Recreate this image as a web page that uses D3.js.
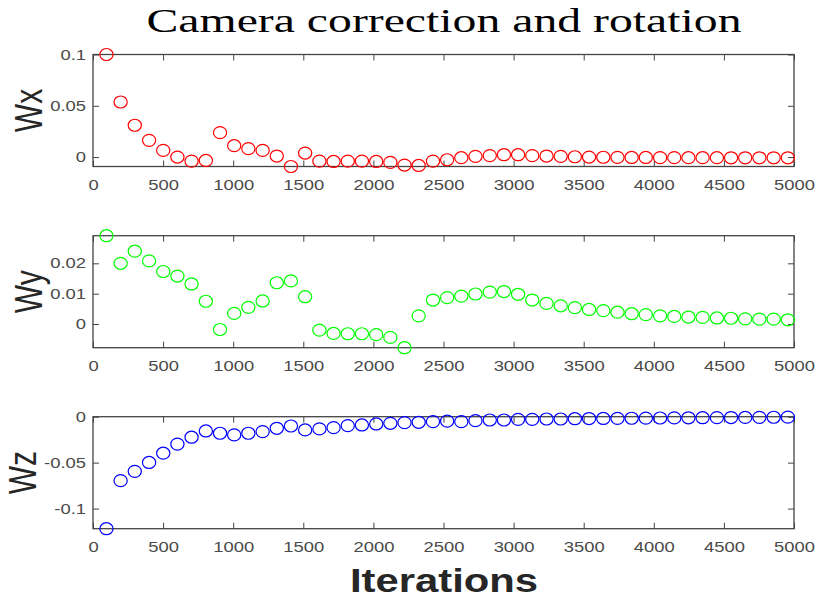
<!DOCTYPE html>
<html>
<head>
<meta charset="utf-8">
<script src="https://cdn.jsdelivr.net/npm/d3@7"></script>
<style>
  html, body { margin: 0; padding: 0; background: #fff; }
  svg { display: block; }
</style>
</head>
<body>
<svg id="chart" width="818" height="601"></svg>
<script>
// sample positions (iterations)
const iterations = [96, 197, 298, 400, 501, 602, 703, 805, 906, 1007, 1108, 1210, 1311, 1412, 1513,
  1615, 1716, 1817, 1918, 2020, 2121, 2222, 2323, 2425, 2526, 2627, 2728, 2830, 2931, 3032,
  3133, 3235, 3336, 3437, 3538, 3640, 3741, 3842, 3943, 4045, 4146, 4247, 4348, 4450, 4551,
  4652, 4753, 4855, 4956];

const wx = [0.1, 0.0537, 0.031, 0.0163, 0.0065, 0.0, -0.004, -0.0033, 0.0238, 0.0111, 0.0082, 0.0065,
  0.001, -0.0092, 0.0039, -0.004, -0.0043, -0.004, -0.004, -0.0043, -0.0052, -0.0078, -0.0082,
  -0.004, -0.0026, -0.0006, 0.0007, 0.0014, 0.0023, 0.0023, 0.0014, 0.001, 0.0007, 0.0003, 0.0,
  -0.0002, -0.0003, -0.0004, -0.0004, -0.0005, -0.0005, -0.0006, -0.0006, -0.0006, -0.0007,
  -0.0007, -0.0007, -0.0007, -0.0007];

const wy = [0.0291, 0.02, 0.024, 0.0208, 0.0173, 0.0158, 0.0132, 0.0075, -0.0018, 0.0035, 0.0055,
  0.0076, 0.0136, 0.0142, 0.009, -0.002, -0.0031, -0.0032, -0.0032, -0.0035, -0.0044, -0.0078,
  0.0027, 0.0079, 0.0087, 0.0092, 0.0099, 0.0105, 0.0107, 0.0098, 0.0079, 0.0068, 0.006, 0.0054,
  0.0048, 0.0044, 0.0039, 0.0034, 0.0031, 0.0027, 0.0025, 0.0023, 0.0022, 0.002, 0.0019, 0.0017,
  0.0016, 0.0016, 0.0014];

const wz = [-0.1219, -0.0696, -0.0595, -0.0498, -0.0397, -0.0299, -0.0223, -0.0155, -0.018, -0.0198,
  -0.018, -0.0162, -0.0126, -0.0101, -0.0144, -0.0133, -0.0119, -0.0097, -0.009, -0.0079, -0.0072,
  -0.0065, -0.0061, -0.0054, -0.0048, -0.0054, -0.0043, -0.0036, -0.0036, -0.0029, -0.0029, -0.0025,
  -0.0025, -0.0022, -0.002, -0.0019, -0.0018, -0.0017, -0.0016, -0.0014, -0.0013, -0.0012, -0.0011,
  -0.001, -0.0009, -0.0008, -0.0007, -0.0006, -0.0005];

const xTicks = [0, 500, 1000, 1500, 2000, 2500, 3000, 3500, 4000, 4500, 5000];
const wxTicks = [0, 0.05, 0.1];
const wyTicks = [0, 0.01, 0.02];
const wzTicks = [-0.1, -0.05, 0];

const wxLim = [-0.0092, 0.1];
const wyLim = [-0.0078, 0.0291];
const wzLim = [-0.1219, 0];

const titleText = "Camera correction and rotation";
const xLabel = "Iterations";

// layout
const left = 93, right = 794;
const plotH = 112;
const stretch = 1.27; // the picture is widened, text looks wide
const tickLen = 6;
const axisColor = "#444";

const panels = [
  { label: "Wx", values: wx, lim: wxLim, ticks: wxTicks, color: "#ff0000", top: 54.5, labelX: 28 },
  { label: "Wy", values: wy, lim: wyLim, ticks: wyTicks, color: "#00ff00", top: 235.7, labelX: 28 },
  { label: "Wz", values: wz, lim: wzLim, ticks: wzTicks, color: "#0000ff", top: 416.7, labelX: 22 }
];

const svg = d3.select("#chart");

const x = d3.scaleLinear().domain([0, 5000]).range([0, right - left]);

panels.forEach(function(p) {
  const y = d3.scaleLinear().domain(p.lim).range([plotH, 0]);
  const g = svg.append("g").attr("transform", `translate(${left},${p.top})`);

  // bottom axis with labels
  const bottom = g.append("g")
    .attr("transform", `translate(0,${plotH})`)
    .call(d3.axisBottom(x).tickValues(xTicks).tickSizeInner(-tickLen).tickSizeOuter(0)
      .tickPadding(13).tickFormat(d => String(d)));

  // top axis, ticks only
  const topAx = g.append("g")
    .call(d3.axisTop(x).tickValues(xTicks).tickSizeInner(-tickLen).tickSizeOuter(0).tickFormat(""));

  // left axis with labels
  const leftAx = g.append("g")
    .call(d3.axisLeft(y).tickValues(p.ticks).tickSizeInner(-tickLen).tickSizeOuter(0)
      .tickPadding(7).tickFormat(d => String(d)));

  // right axis, ticks only
  const rightAx = g.append("g")
    .attr("transform", `translate(${right - left},0)`)
    .call(d3.axisRight(y).tickValues(p.ticks).tickSizeInner(-tickLen).tickSizeOuter(0).tickFormat(""));

  [bottom, topAx, leftAx, rightAx].forEach(function(a) {
    a.select(".domain").remove();
    a.selectAll("line").attr("stroke", axisColor).attr("stroke-width", 1);
    a.selectAll("text")
      .attr("font-family", "Liberation Sans, Arial, sans-serif")
      .attr("font-size", 14.5)
      .attr("fill", "#4a4a4a");
  });

  bottom.selectAll("text").attr("transform", `scale(${stretch},1)`);
  leftAx.selectAll("text")
    .attr("x", -7 / stretch)
    .attr("transform", `scale(${stretch},1)`);

  // box
  g.append("rect")
    .attr("x", 0).attr("y", 0)
    .attr("width", right - left).attr("height", plotH)
    .attr("fill", "none")
    .attr("stroke", axisColor)
    .attr("stroke-width", 1.3);

  // markers (slightly wide, like the stretched picture)
  g.selectAll("ellipse")
    .data(p.values)
    .enter()
    .append("ellipse")
    .attr("cx", (d, i) => x(iterations[i]))
    .attr("cy", d => y(d))
    .attr("rx", 6.6)
    .attr("ry", 6)
    .attr("fill", "none")
    .attr("stroke", p.color)
    .attr("stroke-width", 1.2);

  // y label
  svg.append("text")
    .attr("transform", `translate(${p.labelX},${p.top + plotH / 2}) scale(${stretch},1) rotate(-90)`)
    .attr("text-anchor", "middle")
    .attr("dy", "0.36em")
    .attr("font-family", "Liberation Sans, Arial, sans-serif")
    .attr("font-size", 30)
    .attr("fill", "#262626")
    .text(p.label);
});

// title
svg.append("text")
  .attr("x", 444)
  .attr("y", 32)
  .attr("text-anchor", "middle")
  .attr("font-family", "Liberation Serif, Times New Roman, serif")
  .attr("font-size", 34)
  .attr("textLength", 595)
  .attr("lengthAdjust", "spacingAndGlyphs")
  .attr("fill", "#000")
  .text(titleText);

// x label
svg.append("text")
  .attr("x", 444)
  .attr("y", 592)
  .attr("text-anchor", "middle")
  .attr("font-family", "Liberation Sans, Arial, sans-serif")
  .attr("font-weight", "bold")
  .attr("font-size", 33)
  .attr("textLength", 188)
  .attr("lengthAdjust", "spacingAndGlyphs")
  .attr("fill", "#262626")
  .text(xLabel);
</script>
</body>
</html>
